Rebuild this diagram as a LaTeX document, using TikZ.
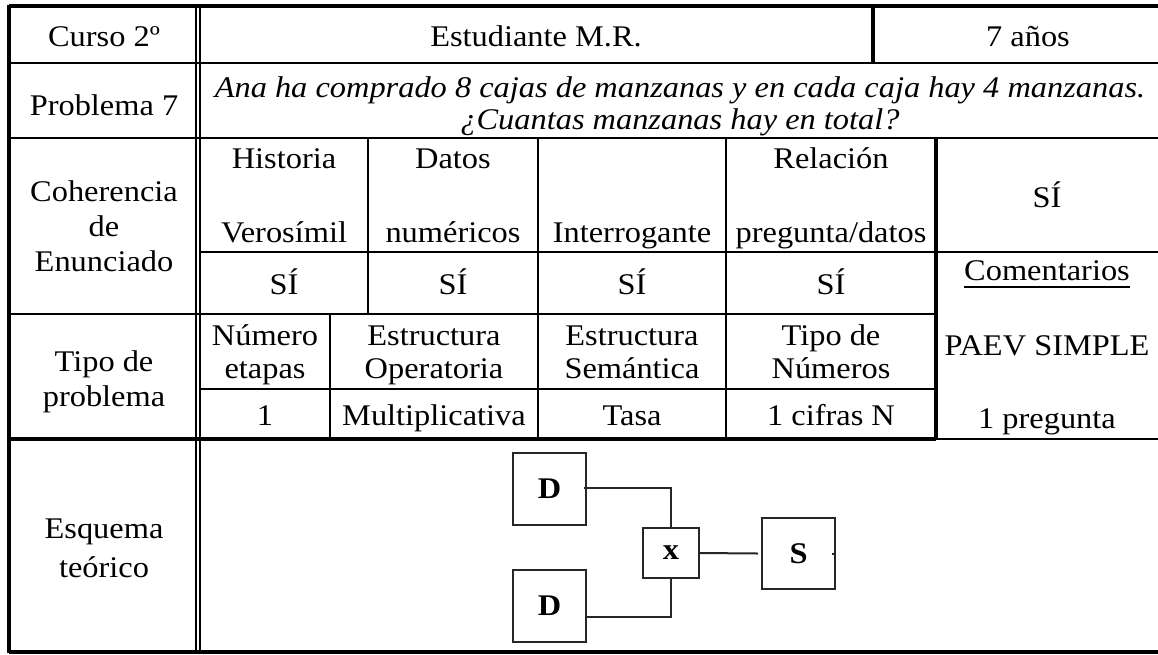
\documentclass[tikz,border=0pt]{standalone}
\usepackage{fontspec}
\setmainfont{Liberation Serif}[FakeStretch=1.08]
\begin{document}
\begin{tikzpicture}[x=1pt,y=-1pt,
  txt/.style={inner sep=0pt, anchor=base, font=\fontsize{30}{35}\selectfont},
  itxt/.style={txt, font=\fontsize{30}{35}\selectfont\itshape},
  outer/.style={line width=3.5pt},
  thickln/.style={line width=4pt},
  medln/.style={line width=2.5pt},
  thinln/.style={line width=2pt},
  dbl/.style={line width=1.6pt},
  blk/.style={draw=black!85, line width=2pt, inner sep=0pt, font=\fontsize{30}{35}\selectfont\bfseries},
  conn/.style={draw=black!85, line width=2pt}
]
\useasboundingbox (0,0) rectangle (1158,654);

% ---------- table lines ----------
\draw[outer] (9,6) -- (1158,6);
\draw[outer] (9,4.5) -- (9,653);
\draw[outer] (9,652) -- (1158,652);
\draw[dbl] (196,6) -- (196,652);
\draw[dbl] (200,6) -- (200,652);
\draw[medln] (9,63) -- (1158,63);
\draw[outer] (873,6) -- (873,63);
\draw[medln] (9,138) -- (1158,138);
\draw[medln] (200,252) -- (1158,252);
\draw[thinln] (9,314) -- (936,314);
\draw[thinln] (200,389) -- (936,389);
\draw[thickln] (9,439) -- (936,439);
\draw[thinln] (936,439) -- (1158,439);
\draw[thinln] (368,138) -- (368,314);
\draw[thinln] (538,138) -- (538,439);
\draw[thinln] (726,138) -- (726,439);
\draw[thinln] (330,314) -- (330,439);
\draw[thickln] (936,138) -- (936,439);

% ---------- row 1 ----------
\node[txt] (curso) at (104,46) {Curso 2º};
\node[txt] (estud) at (536,46) {Estudiante M.R.};
\node[txt] (anos) at (1028,46) {7 años};

% ---------- row 2 ----------
\node[txt] (probl) at (104,115) {Problema 7};
\node[itxt] (enun1) at (680,97) {Ana ha comprado 8 cajas de manzanas y en cada caja hay 4 manzanas.};
\node[itxt] (enun2) at (680,129) {¿Cuantas manzanas hay en total?};

% ---------- coherencia ----------
\node[txt] (coh1) at (104,201) {Coherencia};
\node[txt] (coh2) at (104,236) {de};
\node[txt] (coh3) at (104,271) {Enunciado};
\node[txt] (his1) at (284,168) {Historia};
\node[txt] (his2) at (284,242) {Verosímil};
\node[txt] (dat1) at (453,168) {Datos};
\node[txt] (dat2) at (453,242) {numéricos};
\node[txt] (inte) at (632,242) {Interrogante};
\node[txt] (rel1) at (831,168) {Relación};
\node[txt] (rel2) at (831,242) {pregunta/datos};
\node[txt] (siR) at (1047,207) {SÍ};
\node[txt] (si1) at (284,294) {SÍ};
\node[txt] (si2) at (453,294) {SÍ};
\node[txt] (si3) at (632,294) {SÍ};
\node[txt] (si4) at (831,294) {SÍ};
\node[txt] (com) at (1047,280) {Comentarios};
\draw[line width=1.6pt] ([yshift=-7pt]com.base west) -- ([yshift=-7pt]com.base east);

% ---------- tipo de problema ----------
\node[txt] (tip1) at (104,371) {Tipo de};
\node[txt] (tip2) at (104,406) {problema};
\node[txt] (num1) at (265,345) {Número};
\node[txt] (num2) at (265,378) {etapas};
\node[txt] (eo1) at (434,345) {Estructura};
\node[txt] (eo2) at (434,378) {Operatoria};
\node[txt] (es1) at (632,345) {Estructura};
\node[txt] (es2) at (632,378) {Semántica};
\node[txt] (tn1) at (831,345) {Tipo de};
\node[txt] (tn2) at (831,378) {Números};
\node[txt] (paev) at (1047,355) {PAEV SIMPLE};
\node[txt] (v1) at (265,425) {1};
\node[txt] (v2) at (434,425) {Multiplicativa};
\node[txt] (v3) at (632,425) {Tasa};
\node[txt] (v4) at (831,425) {1 cifras N};
\node[txt] (preg) at (1047,428) {1 pregunta};

% ---------- esquema ----------
\node[txt] (esq1) at (104,538) {Esquema};
\node[txt] (esq2) at (104,577) {teórico};

\node[blk, minimum width=73pt, minimum height=72pt] (D1) at (549.5,488.5) {D};
\node[blk, minimum width=73pt, minimum height=72pt] (D2) at (549.5,606) {D};
\node[blk, minimum width=56pt, minimum height=50pt] (X) at (671,553) {x};
\node[blk, minimum width=73pt, minimum height=71pt] (S) at (798.5,553.5) {S};

\draw[conn] ([xshift=-3pt,yshift=1pt]D1.east) -| (X.north);
\draw[conn] ([yshift=-11pt]D2.east) -| (X.south);
\draw[conn] (X.east) -- ([xshift=-3pt]S.west);
\coordinate (sstub) at ([xshift=-4pt]S.east);
\draw[conn] (sstub) -- (S.east);
\end{tikzpicture}
\end{document}
